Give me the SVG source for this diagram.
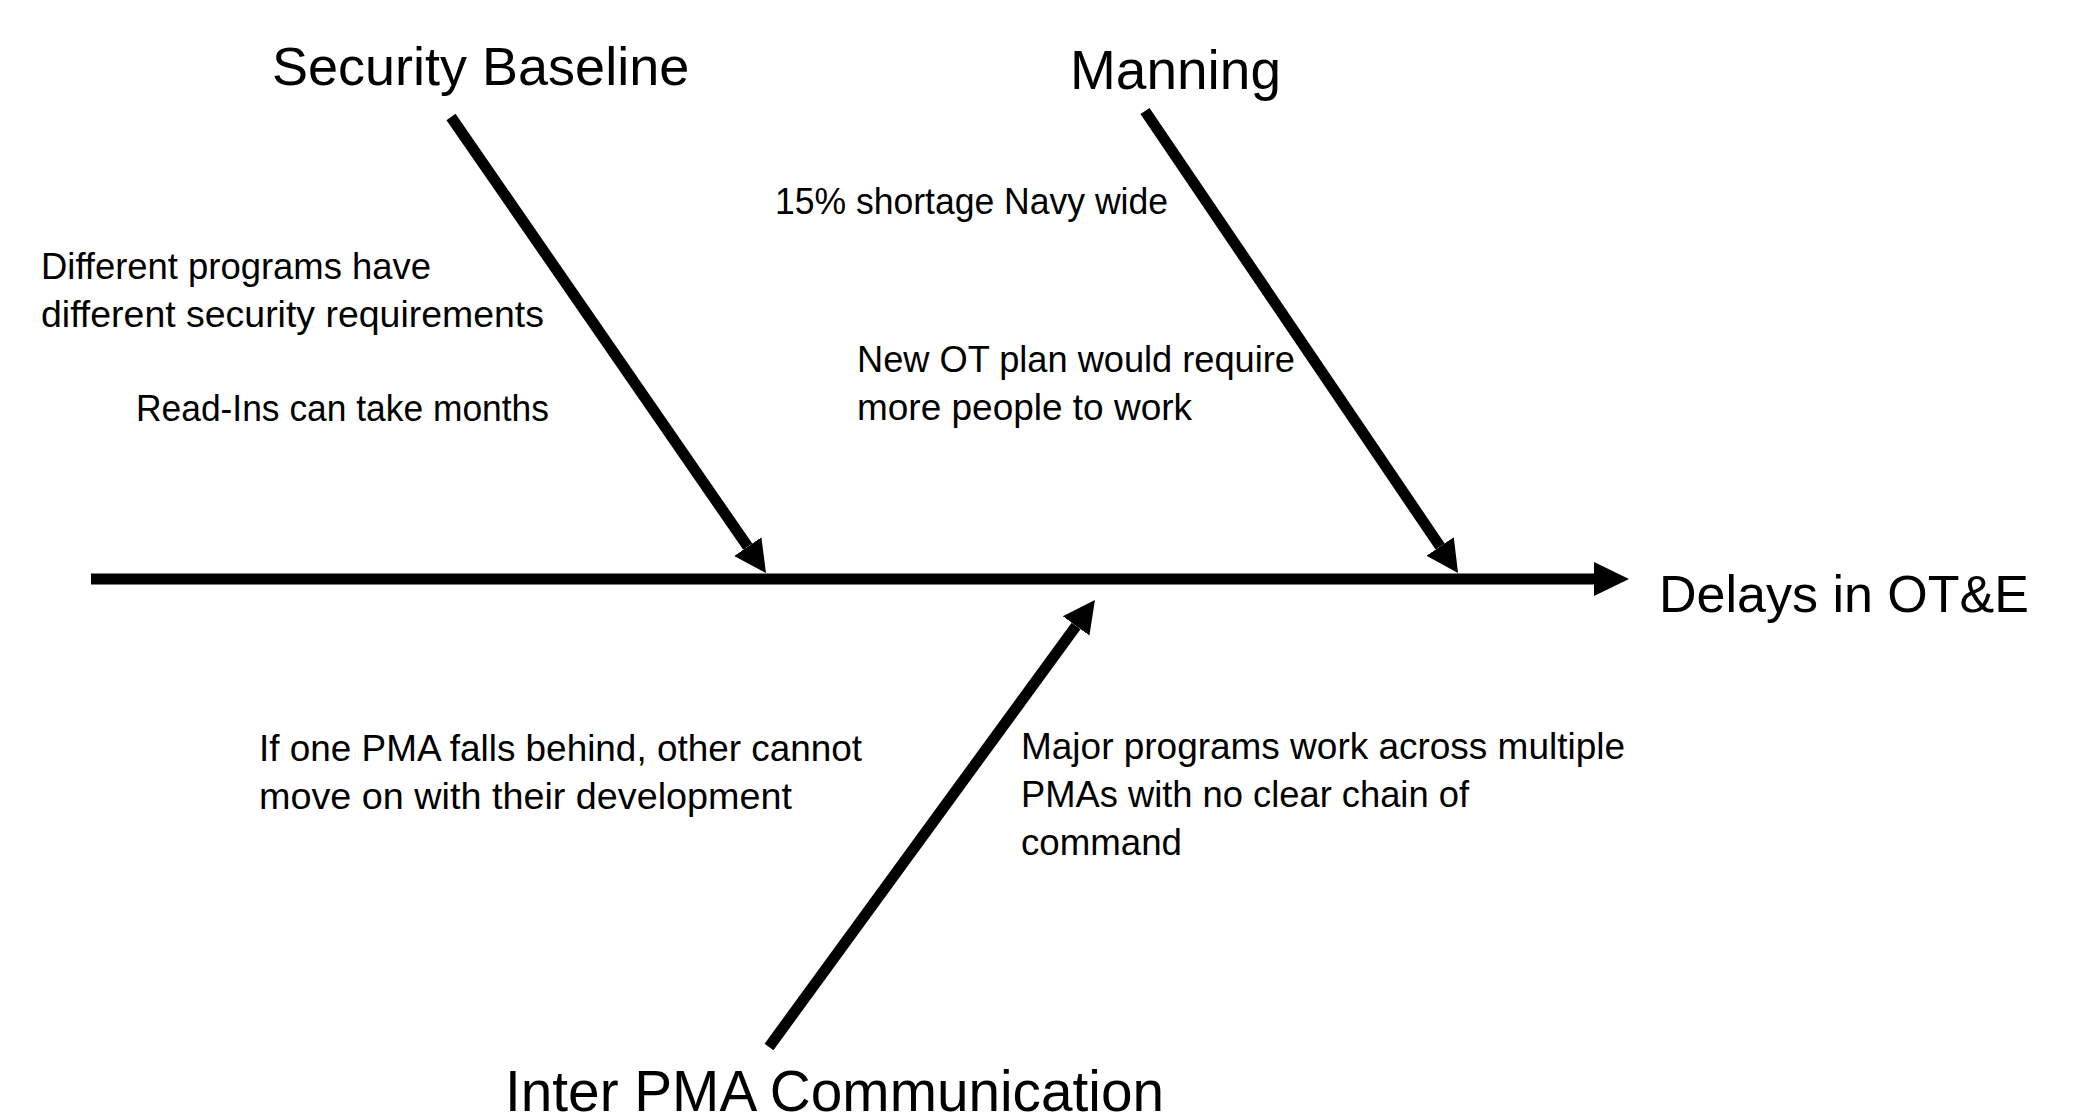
<svg xmlns="http://www.w3.org/2000/svg" width="2084" height="1120" viewBox="0 0 2084 1120">
  <style>
    .head { font-family: "Liberation Sans", Arial, sans-serif; fill: #000; }
    .note { font-family: "Liberation Sans", Arial, sans-serif; font-size: 36px; fill: #000; }
    .bone { stroke: #000; stroke-width: 11; fill: none; stroke-linecap: butt; }
  </style>
  <defs>
    <marker id="head" markerUnits="userSpaceOnUse" markerWidth="40" markerHeight="40" refX="0" refY="17" orient="auto" viewBox="0 0 40 34">
      <path d="M0,0.5 L32,17 L0,33.5 Z" fill="#000"/>
    </marker>
    <marker id="mainhead" markerUnits="userSpaceOnUse" markerWidth="40" markerHeight="40" refX="0" refY="17" orient="auto" viewBox="0 0 40 34">
      <path d="M0,0 L35,17 L0,34 Z" fill="#000"/>
    </marker>
  </defs>
  <rect width="2084" height="1120" fill="#fff"/>

  <g id="connectors">
    <line id="spine" class="bone" x1="91" y1="579" x2="1594" y2="579" marker-end="url(#mainhead)"/>
    <line id="bone-security" class="bone" x1="451" y1="117" x2="747.8" y2="546.7" marker-end="url(#head)"/>
    <line id="bone-manning" class="bone" x1="1145" y1="111" x2="1440.1" y2="546.5" marker-end="url(#head)"/>
    <line id="bone-interpma" class="bone" x1="769" y1="1047" x2="1076.1" y2="625.9" marker-end="url(#head)"/>
  </g>

  <g id="node-security">
    <text class="head" x="272" y="85" font-size="54">Security Baseline</text>
    <text class="note" x="41" y="279" textLength="390" lengthAdjust="spacingAndGlyphs">Different programs have</text>
    <text class="note" x="41" y="327" textLength="503" lengthAdjust="spacingAndGlyphs">different security requirements</text>
    <text class="note" x="136" y="421" textLength="413" lengthAdjust="spacingAndGlyphs">Read-Ins can take months</text>
  </g>

  <g id="node-manning">
    <text class="head" x="1070" y="89" font-size="55">Manning</text>
    <text class="note" x="775" y="214" textLength="393" lengthAdjust="spacingAndGlyphs">15% shortage Navy wide</text>
    <text class="note" x="857" y="372" textLength="438" lengthAdjust="spacingAndGlyphs">New OT plan would require</text>
    <text class="note" x="857" y="420" textLength="335" lengthAdjust="spacingAndGlyphs">more people to work</text>
  </g>

  <g id="node-interpma">
    <text class="head" x="505" y="1111" font-size="57" textLength="659" lengthAdjust="spacingAndGlyphs">Inter PMA Communication</text>
    <text class="note" x="259" y="761" textLength="603" lengthAdjust="spacingAndGlyphs">If one PMA falls behind, other cannot</text>
    <text class="note" x="259" y="809" textLength="533" lengthAdjust="spacingAndGlyphs">move on with their development</text>
    <text class="note" x="1021" y="759" textLength="604" lengthAdjust="spacingAndGlyphs">Major programs work across multiple</text>
    <text class="note" x="1021" y="807" textLength="448" lengthAdjust="spacingAndGlyphs">PMAs with no clear chain of</text>
    <text class="note" x="1021" y="855" textLength="161" lengthAdjust="spacingAndGlyphs">command</text>
  </g>

  <g id="node-effect">
    <text class="head" x="1659" y="612" font-size="52">Delays in OT&amp;E</text>
  </g>
</svg>
